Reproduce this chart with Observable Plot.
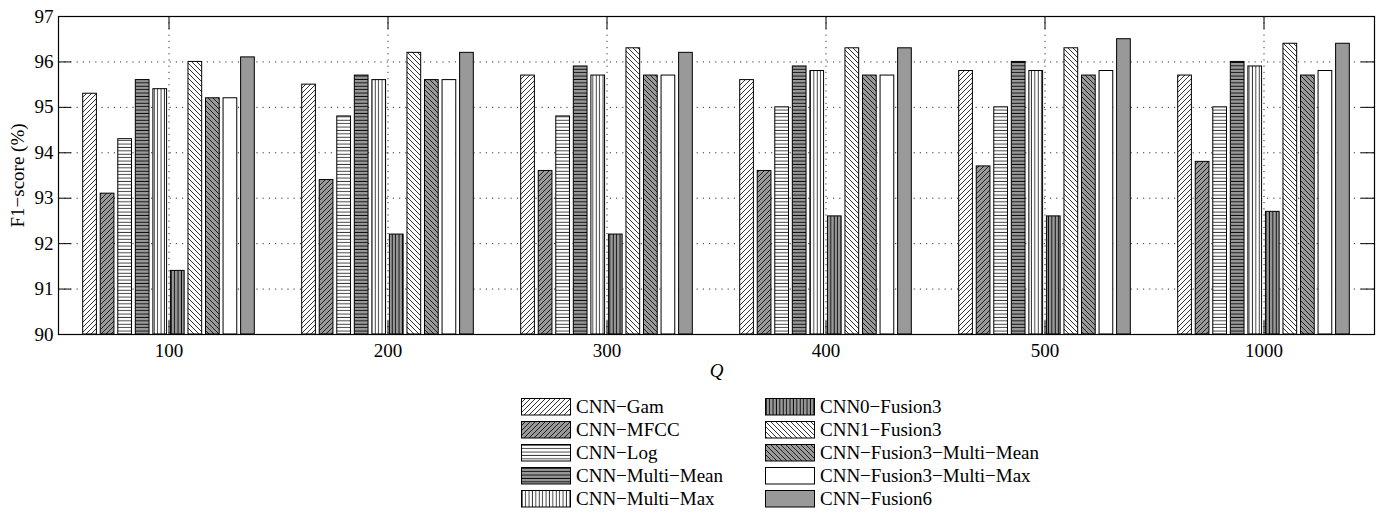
<!DOCTYPE html>
<html><head><meta charset="utf-8">
<script src="https://cdn.jsdelivr.net/npm/d3@7"></script>
<script src="https://cdn.jsdelivr.net/npm/@observablehq/plot@0.6"></script>
<style>
body{margin:0;background:#fff;font-family:"Liberation Serif",serif;}
#chart{position:absolute;left:0;top:0;}
g[aria-label="x-axis label"] text{font-style:italic;}
.leg{position:absolute;font-size:19px;color:#000;}
.row{position:absolute;left:0;height:17px;white-space:nowrap;}
.row svg{position:absolute;left:0;top:0;}
.row span{position:absolute;left:55px;top:-2px;line-height:21px;}
</style></head><body>
<svg width="0" height="0" style="position:absolute">
<defs>
<pattern id="p0" patternUnits="userSpaceOnUse" width="5" height="5"><rect width="5" height="5" fill="#fff"/><path d="M0,5L5,0M-1,1L1,-1M4,6L6,4" stroke="#000" stroke-width="0.8"/></pattern>
<pattern id="p1" patternUnits="userSpaceOnUse" width="5" height="5"><rect width="5" height="5" fill="#999"/><path d="M0,5L5,0M-1,1L1,-1M4,6L6,4" stroke="#000" stroke-width="0.8"/></pattern>
<pattern id="p2" patternUnits="userSpaceOnUse" width="4" height="3.4"><rect width="4" height="3.4" fill="#fff"/><path d="M0,1.2H4" stroke="#000" stroke-width="0.8"/></pattern>
<pattern id="p3" patternUnits="userSpaceOnUse" width="4" height="3.4"><rect width="4" height="3.4" fill="#999"/><path d="M0,1.2H4" stroke="#000" stroke-width="0.9"/></pattern>
<pattern id="p4" patternUnits="userSpaceOnUse" width="3.4" height="4"><rect width="3.4" height="4" fill="#fff"/><path d="M1.2,0V4" stroke="#000" stroke-width="0.8"/></pattern>
<pattern id="p5" patternUnits="userSpaceOnUse" width="3.4" height="4"><rect width="3.4" height="4" fill="#999"/><path d="M1.2,0V4" stroke="#000" stroke-width="0.9"/></pattern>
<pattern id="p6" patternUnits="userSpaceOnUse" width="5" height="5"><rect width="5" height="5" fill="#fff"/><path d="M0,0L5,5M-1,4L1,6M4,-1L6,1" stroke="#000" stroke-width="0.8"/></pattern>
<pattern id="p7" patternUnits="userSpaceOnUse" width="5" height="5"><rect width="5" height="5" fill="#999"/><path d="M0,0L5,5M-1,4L1,6M4,-1L6,1" stroke="#000" stroke-width="0.8"/></pattern>
<pattern id="p8" patternUnits="userSpaceOnUse" width="5" height="5"><rect width="5" height="5" fill="#fff"/></pattern>
<pattern id="p9" patternUnits="userSpaceOnUse" width="5" height="5"><rect width="5" height="5" fill="#999"/></pattern>
</defs></svg>
<div id="chart"></div>
<div id="legend"></div>
<script>
// ---- data ----
const qLabels = ["100", "200", "300", "400", "500", "1000"];
const seriesNames = ["CNN−Gam", "CNN−MFCC", "CNN−Log", "CNN−Multi−Mean", "CNN−Multi−Max",
  "CNN0−Fusion3", "CNN1−Fusion3", "CNN−Fusion3−Multi−Mean", "CNN−Fusion3−Multi−Max", "CNN−Fusion6"];
const cnnGam        = [95.3, 95.5, 95.7, 95.6, 95.8, 95.7];
const cnnMfcc       = [93.1, 93.4, 93.6, 93.6, 93.7, 93.8];
const cnnLog        = [94.3, 94.8, 94.8, 95.0, 95.0, 95.0];
const cnnMultiMean  = [95.6, 95.7, 95.9, 95.9, 96.0, 96.0];
const cnnMultiMax   = [95.4, 95.6, 95.7, 95.8, 95.8, 95.9];
const cnn0Fusion3   = [91.4, 92.2, 92.2, 92.6, 92.6, 92.7];
const cnn1Fusion3   = [96.0, 96.2, 96.3, 96.3, 96.3, 96.4];
const fusion3Mean   = [95.2, 95.6, 95.7, 95.7, 95.7, 95.7];
const fusion3Max    = [95.2, 95.6, 95.7, 95.7, 95.8, 95.8];
const cnnFusion6    = [96.1, 96.2, 96.2, 96.3, 96.5, 96.4];
const yTicks = [90, 91, 92, 93, 94, 95, 96, 97];

const seriesValues = [cnnGam, cnnMfcc, cnnLog, cnnMultiMean, cnnMultiMax,
  cnn0Fusion3, cnn1Fusion3, fusion3Mean, fusion3Max, cnnFusion6];
const fills = seriesNames.map((_, i) => `url(#p${i})`);

const W = 1380, H = 386, mL = 58, mR = 6, mT = 16, mB = 52;
const plotW = W - mL - mR, plotH = H - mT - mB;
const bw = plotW / qLabels.length;
const step = 0.08 * bw, barW = 0.064 * bw;
const n = seriesNames.length;

const barMarks = seriesNames.map((name, i) => {
  const rows = qLabels.map((q, j) => ({q, series: name, value: seriesValues[i][j]}));
  const left = bw / 2 + (i - (n - 1) / 2) * step - barW / 2;
  return Plot.barY(rows, {
    x: "q", y1: () => yTicks[0], y2: "value",
    fill: fills[i], stroke: "#000", strokeWidth: 1,
    insetLeft: left, insetRight: bw - left - barW
  });
});

const tk = 13;
const chart = Plot.plot({
  width: W, height: H,
  marginLeft: mL, marginRight: mR, marginTop: mT, marginBottom: mB,
  style: {fontFamily: "Liberation Serif", fontSize: "19px", color: "#000", background: "#fff"},
  x: {domain: qLabels, padding: 0},
  y: {domain: [90, 97]},
  marks: [
    Plot.gridY(yTicks, {stroke: "#333", strokeOpacity: 1, strokeDasharray: "1.2,5"}),
    Plot.gridX(qLabels, {stroke: "#333", strokeOpacity: 1, strokeDasharray: "1.2,5"}),
    ...barMarks,
    Plot.tickY(yTicks, {y: d => d, stroke: "#000", insetRight: plotW - tk}),
    Plot.tickY(yTicks, {y: d => d, stroke: "#000", insetLeft: plotW - tk}),
    Plot.tickX(qLabels, {x: d => d, stroke: "#000", insetTop: plotH - tk}),
    Plot.tickX(qLabels, {x: d => d, stroke: "#000", insetBottom: plotH - tk}),
    Plot.frame({stroke: "#000", strokeWidth: 1.2}),
    Plot.axisY(yTicks, {tickSize: 0, tickPadding: 5, fontSize: 19, label: "F1−score (%)", labelAnchor: "center", labelOffset: 48, labelArrow: "none"}),
    Plot.axisX({tickSize: 0, tickPadding: 9, fontSize: 19, label: "Q", labelAnchor: "center", labelOffset: 42, labelArrow: "none"})
  ]
});
document.getElementById("chart").appendChild(chart);

// ---- legend ----
const leg = document.getElementById("legend");
const colX = [521, 765];
const rowY0 = 397.5, rowStep = 23;
seriesNames.forEach((name, i) => {
  const col = Math.floor(i / 5), r = i % 5;
  const div = document.createElement("div");
  div.className = "leg row";
  div.style.left = colX[col] + "px";
  div.style.top = (rowY0 + r * rowStep) + "px";
  div.innerHTML = `<svg width="51" height="18"><rect x="0.5" y="0.5" width="49" height="16.5" fill="${fills[i]}" stroke="#000" stroke-width="1"/></svg><span>${name}</span>`;
  leg.appendChild(div);
});
</script>
</body></html>
